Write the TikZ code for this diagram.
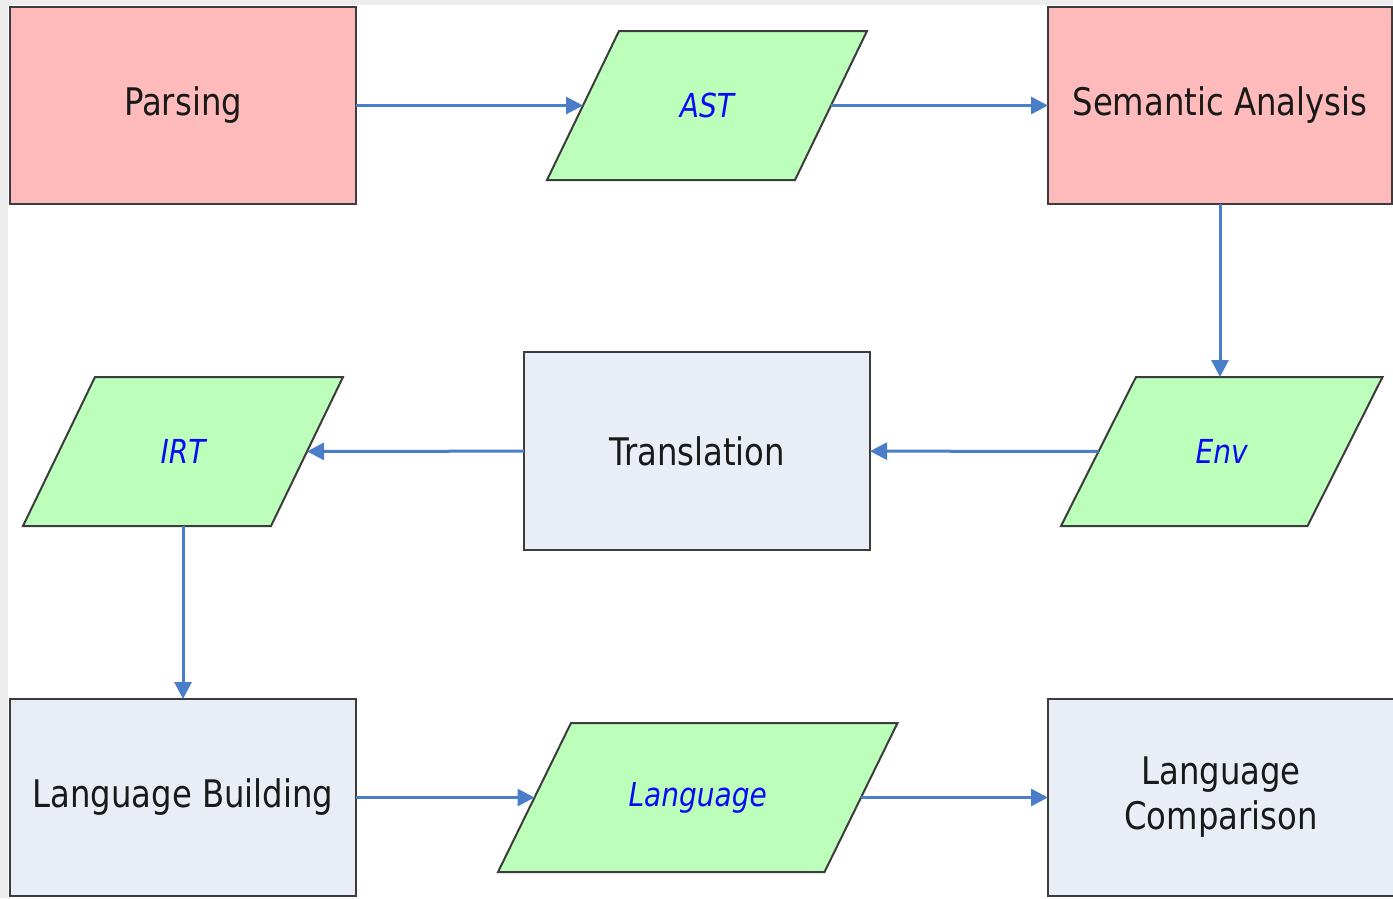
\documentclass[tikz,border=0pt]{standalone}
\usepackage{fontspec}
\setmainfont{DejaVu Sans}[FakeStretch=0.85]
\usetikzlibrary{arrows.meta,backgrounds}

\definecolor{procpink}{RGB}{255,187,187}
\definecolor{procblue}{RGB}{233,237,246}
\definecolor{datagreen}{RGB}{187,255,187}
\definecolor{edgegray}{RGB}{60,60,60}
\definecolor{flowblue}{RGB}{74,126,201}
\definecolor{datatext}{RGB}{10,10,245}
\definecolor{framegray}{RGB}{236,236,236}

\tikzset{
  x=1pt, y=-1pt,
  process/.style={draw=edgegray, line width=2pt, rectangle, inner sep=0pt, outer sep=0pt,
    minimum width=346pt, minimum height=197pt, align=center,
    font=\fontsize{38}{45}\selectfont, text=black!90},
  datum/.style={rectangle, inner sep=0pt, outer sep=0pt, minimum height=149pt,
    font=\fontsize{33}{40}\selectfont\itshape, text=datatext},
  datumshape/.style={draw=edgegray, line width=2pt, fill=datagreen, line join=miter},
  flow/.style={draw=flowblue, line width=3pt, -{Triangle[length=17pt,width=17pt]}},
}

\begin{document}
\begin{tikzpicture}
\useasboundingbox (0,0) rectangle (1393,898);

% process boxes
\node[process, fill=procpink] (parse) at (183,105.5) {Parsing};
\node[process, fill=procpink, minimum width=344pt] (sem) at (1220,105.5) {Semantic Analysis};
\node[process, fill=procblue, minimum height=198pt] (trans) at (697,451) {Translation};
\node[process, fill=procblue] (build) at (183,797.5) {Language Building};
\node[process, fill=procblue] (comp) at (1221,797.5) {Language\\Comparison};

% data items (parallelograms drawn behind)
\node[datum, minimum width=248pt] (ast) at (707,105.5) {AST};
\node[datum, minimum width=246.5pt] (env) at (1221.75,451.5) {Env};
\node[datum, minimum width=248pt] (irt) at (183,451.5) {IRT};
\node[datum, minimum width=326.5pt] (lang) at (697.75,797.5) {Language};

\begin{scope}[on background layer]
  \fill[white] (0,0) rectangle (1393,898);
  \fill[framegray] (0,0) rectangle (1393,5);
  \fill[framegray] (0,0) rectangle (8,898);
  \foreach \n/\s in {ast/36, env/37.5, irt/36, lang/36.5}
    \draw[datumshape] ([xshift=\s]\n.north west) -- ([xshift=\s]\n.north east)
      -- ([xshift=-\s]\n.south east) -- ([xshift=-\s]\n.south west) -- cycle;
\end{scope}

% flow
\draw[flow] (parse) -- (ast);
\draw[flow] (ast) -- (sem);
\draw[flow] (sem.south) -- (sem.south |- env.north);
\draw[flow] (env) -- (trans);
\draw[flow] (trans) -- (irt);
\draw[flow] (irt.south) -- (irt.south |- build.north);
\draw[flow] (build) -- (lang);
\draw[flow] (lang) -- (comp);
\end{tikzpicture}
\end{document}
